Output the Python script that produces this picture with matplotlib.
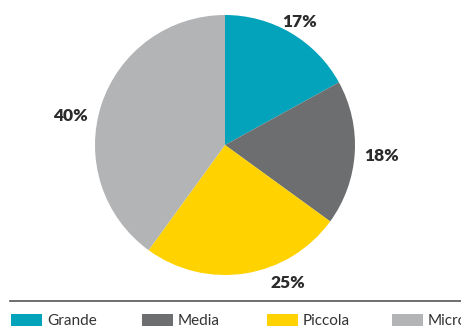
import matplotlib
matplotlib.use("Agg")
import matplotlib.pyplot as plt
from matplotlib.lines import Line2D
from matplotlib.patches import Patch
import numpy as np

categories = ["Grande", "Media", "Piccola", "Micro"]
values = [17, 18, 25, 40]
colors = ["#02a3bb", "#6d6e70", "#ffd200", "#b3b4b6"]
# label placement (polar, in pie-radius units) -- style only
label_angle = [58.6, -4.0, -65.5, 169.4]
label_dist = [1.108, 1.211, 1.167, 1.213]
legend_x_px = [11, 142, 267, 392]

fig = plt.figure(figsize=(4.61, 3.27), dpi=100)
W, H = 461, 327
cx, cy, r = 225, 145, 130
ax = fig.add_axes([(cx - r) / W, (H - cy - r) / H, 2 * r / W, 2 * r / H])

wedges, texts, autotexts = ax.pie(values, colors=colors, startangle=90, counterclock=False,
                                  radius=1, autopct="%d%%", pctdistance=1.18,
                                  wedgeprops=dict(linewidth=0))
ax.set_xlim(-1, 1)
ax.set_ylim(-1, 1)
ax.set_aspect("equal")
ax.axis("off")
for i, t in enumerate(autotexts):
    ang = np.deg2rad(label_angle[i])
    t.set_position((label_dist[i] * np.cos(ang), label_dist[i] * np.sin(ang)))
    t.set_fontfamily("Lato")
    t.set_fontweight("heavy")
    t.set_fontsize(12.5)
    t.set_color("#2b2b2b")
    t.set_clip_on(False)

fig.add_artist(Line2D([10 / W, 1.0], [1 - 301 / H, 1 - 301 / H], transform=fig.transFigure,
                      color="#555555", linewidth=1.2))

for cat, col, xp in zip(categories, colors, legend_x_px):
    leg = fig.legend([Patch(facecolor=col, edgecolor="none")], [cat], loc="upper left",
                     bbox_to_anchor=(xp / W, 1 - 314 / H),
                     frameon=False, prop={"family": "Lato", "size": 11},
                     handlelength=2.05, handleheight=0.8, handletextpad=0.3,
                     borderpad=0, borderaxespad=0)
    for t in leg.get_texts():
        t.set_color("#333333")

fig.savefig("out.png", dpi=100)
